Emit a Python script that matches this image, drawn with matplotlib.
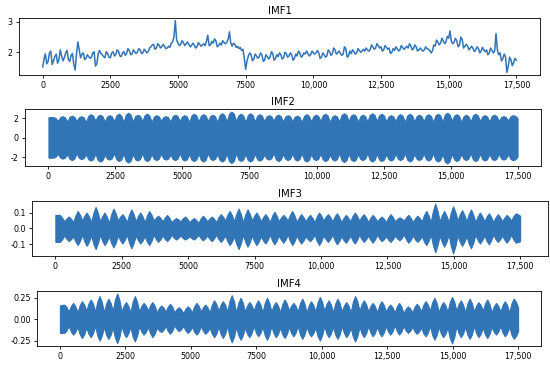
import numpy as np
import matplotlib
matplotlib.use("Agg")
import matplotlib.pyplot as plt
from matplotlib.ticker import FuncFormatter

# IMF1: slow trend, one value every 50 samples (0 .. 17500), 20 values per row
imf1 = [1.52, 1.78, 1.95, 1.62, 1.70, 1.98, 2.04, 1.60, 1.72, 1.86, 1.94, 1.64, 1.76, 2.08, 1.88, 1.72, 1.82, 1.98, 2.06, 1.76,
        1.70, 1.90, 1.96, 1.60, 1.42, 1.95, 2.34, 2.08, 1.82, 1.94, 1.98, 1.76, 1.80, 1.92, 1.86, 1.80, 1.84, 1.98, 2.02, 1.55,
        1.62, 1.94, 2.06, 1.96, 1.92, 1.86, 1.82, 2.02, 1.96, 1.84, 1.82, 1.98, 2.02, 1.88, 1.92, 2.08, 2.04, 1.88, 1.86, 1.98,
        2.02, 1.90, 1.96, 2.12, 2.06, 1.92, 1.94, 2.08, 2.02, 1.96, 2.00, 2.12, 2.08, 1.96, 1.98, 2.10, 2.04, 1.98, 2.02, 2.14,
        2.18, 2.24, 2.26, 2.10, 2.14, 2.28, 2.24, 2.14, 2.18, 2.26, 2.20, 2.12, 2.14, 2.20, 2.16, 2.30, 2.34, 2.50, 3.04, 2.40,
        2.30, 2.22, 2.26, 2.38, 2.32, 2.22, 2.28, 2.34, 2.26, 2.18, 2.22, 2.30, 2.24, 2.14, 2.18, 2.32, 2.26, 2.20, 2.24, 2.28,
        2.22, 2.36, 2.56, 2.22, 2.24, 2.36, 2.30, 2.44, 2.38, 2.18, 2.22, 2.30, 2.24, 2.38, 2.32, 2.28, 2.32, 2.42, 2.67, 2.30,
        2.20, 2.30, 2.26, 2.16, 2.20, 2.12, 2.16, 2.06, 2.10, 1.80, 1.44, 1.72, 1.88, 1.98, 1.92, 1.72, 1.78, 1.94, 1.88, 1.80,
        1.86, 1.98, 1.92, 1.70, 1.74, 1.92, 1.86, 1.78, 1.84, 2.02, 1.96, 1.74, 1.80, 1.92, 1.86, 1.98, 1.92, 1.78, 1.82, 2.00,
        1.96, 1.84, 1.88, 1.98, 1.92, 1.74, 1.80, 1.94, 1.88, 2.04, 1.98, 1.84, 1.88, 1.98, 1.94, 2.04, 1.96, 1.88, 1.92, 2.04,
        1.98, 1.94, 1.98, 2.06, 1.98, 1.80, 1.84, 1.98, 1.92, 1.84, 1.88, 2.08, 2.02, 1.90, 1.94, 2.14, 2.08, 1.94, 1.98, 2.04,
        1.96, 1.90, 1.94, 2.18, 2.12, 1.84, 1.88, 2.04, 1.96, 2.08, 2.02, 1.94, 1.98, 2.12, 2.06, 2.00, 2.04, 2.10, 2.04, 2.14,
        2.08, 2.04, 2.08, 2.24, 2.18, 2.10, 2.14, 2.28, 2.22, 2.14, 2.18, 2.04, 2.08, 2.22, 2.16, 2.10, 2.14, 1.96, 2.00, 2.12,
        2.06, 2.18, 2.12, 2.04, 2.08, 2.22, 2.16, 2.10, 2.14, 2.20, 2.14, 2.28, 2.22, 2.08, 2.12, 2.24, 2.18, 2.04, 2.08, 2.14,
        2.08, 2.04, 2.08, 2.18, 2.12, 2.10, 2.06, 1.98, 2.04, 2.24, 2.20, 2.40, 2.34, 2.24, 2.30, 2.46, 2.38, 2.28, 2.34, 2.52,
        2.46, 2.70, 2.36, 2.28, 2.34, 2.46, 2.38, 2.18, 2.24, 2.50, 2.42, 2.14, 2.20, 2.26, 2.20, 2.08, 2.14, 2.20, 2.12, 2.02,
        2.08, 2.18, 2.12, 1.98, 2.04, 2.16, 2.08, 2.02, 2.08, 1.92, 1.98, 2.14, 2.06, 1.98, 2.04, 2.62, 2.08, 1.92, 1.98, 1.72,
        1.78, 1.94, 1.86, 1.34, 1.52, 1.84, 1.76, 1.56, 1.66, 1.80, 1.74]

# IMF2..IMF4: dense oscillations, read as envelope peaks / waists per beat lobe
imf2_top_peak = [2.10, 2.20, 2.25, 2.20, 2.40, 2.35, 2.30, 2.45, 2.55, 2.35,
                 2.45, 2.30, 2.20, 2.35, 2.30, 2.45, 2.40, 2.35, 2.50, 2.67,
                 2.45, 2.50, 2.40, 2.30, 2.35, 2.30, 2.25, 2.40, 2.35, 2.45,
                 2.30, 2.50, 2.40, 2.35, 2.50, 2.45, 2.30, 2.40, 2.45, 2.35,
                 2.40, 2.45, 2.55, 2.40, 2.35, 2.45, 2.30, 2.35, 2.20, 2.30]
imf2_top_waist = [2.10, 1.70, 1.65, 1.70, 1.60, 1.75, 1.65, 1.70, 1.60, 1.65,
                  1.70, 1.60, 1.75, 1.65, 1.70, 1.60, 1.65, 1.70, 1.60, 1.65,
                  1.70, 1.60, 1.65, 1.70, 1.75, 1.65, 1.70, 1.60, 1.65, 1.70,
                  1.60, 1.65, 1.70, 1.60, 1.65, 1.70, 1.65, 1.70, 1.60, 1.65,
                  1.70, 1.60, 1.65, 1.70, 1.60, 1.65, 1.70, 1.65, 1.70, 1.75,
                  2.00]
imf2_bot_peak = [-2.05, -2.15, -2.30, -2.20, -2.35, -2.45, -2.25, -2.40, -2.55, -2.35,
                 -2.40, -2.30, -2.25, -2.30, -2.35, -2.40, -2.45, -2.30, -2.45, -2.60,
                 -2.40, -2.45, -2.35, -2.25, -2.40, -2.30, -2.35, -2.45, -2.30, -2.40,
                 -2.35, -2.50, -2.40, -2.30, -2.45, -2.40, -2.35, -2.30, -2.45, -2.30,
                 -2.35, -2.45, -2.64, -2.40, -2.30, -2.40, -2.35, -2.30, -2.25, -2.30]
imf2_bot_waist = [-2.05, -1.65, -1.70, -1.60, -1.70, -1.65, -1.75, -1.60, -1.65, -1.70,
                  -1.60, -1.70, -1.65, -1.75, -1.60, -1.70, -1.65, -1.60, -1.70, -1.65,
                  -1.60, -1.70, -1.65, -1.75, -1.60, -1.70, -1.65, -1.60, -1.70, -1.65,
                  -1.75, -1.60, -1.65, -1.70, -1.60, -1.65, -1.70, -1.65, -1.60, -1.70,
                  -1.65, -1.60, -1.70, -1.65, -1.70, -1.60, -1.65, -1.70, -1.65, -1.70,
                  -1.95]

imf3_top_peak = [0.085, 0.075, 0.110, 0.100, 0.135, 0.100, 0.125, 0.090, 0.120, 0.100,
                 0.110, 0.080, 0.085, 0.065, 0.075, 0.065, 0.080, 0.075, 0.090, 0.110,
                 0.125, 0.120, 0.100, 0.090, 0.105, 0.085, 0.110, 0.090, 0.085, 0.100,
                 0.090, 0.095, 0.085, 0.100, 0.090, 0.085, 0.075, 0.090, 0.070, 0.085,
                 0.080, 0.110, 0.157, 0.110, 0.140, 0.115, 0.120, 0.100, 0.095, 0.090,
                 0.085, 0.095]
imf3_top_waist = [0.085, 0.045, 0.040, 0.050, 0.040, 0.045, 0.035, 0.050, 0.040, 0.045,
                  0.040, 0.050, 0.045, 0.040, 0.045, 0.040, 0.035, 0.045, 0.040, 0.050,
                  0.045, 0.040, 0.050, 0.045, 0.040, 0.045, 0.050, 0.040, 0.045, 0.040,
                  0.050, 0.045, 0.040, 0.045, 0.050, 0.040, 0.045, 0.040, 0.045, 0.050,
                  0.040, 0.045, 0.040, 0.045, 0.040, 0.050, 0.045, 0.040, 0.045, 0.040,
                  0.045, 0.050, 0.080]
imf3_bot_peak = [-0.085, -0.080, -0.105, -0.110, -0.130, -0.105, -0.120, -0.095, -0.125, -0.095,
                 -0.105, -0.085, -0.080, -0.070, -0.070, -0.070, -0.075, -0.080, -0.085, -0.105,
                 -0.130, -0.115, -0.105, -0.095, -0.100, -0.090, -0.105, -0.095, -0.080, -0.105,
                 -0.085, -0.100, -0.090, -0.095, -0.085, -0.090, -0.080, -0.085, -0.075, -0.090,
                 -0.085, -0.105, -0.150, -0.115, -0.158, -0.110, -0.125, -0.095, -0.100, -0.085,
                 -0.090, -0.090]
imf3_bot_waist = [-0.085, -0.045, -0.050, -0.040, -0.045, -0.040, -0.050, -0.045, -0.040, -0.045,
                  -0.050, -0.040, -0.045, -0.040, -0.045, -0.050, -0.040, -0.045, -0.040, -0.045,
                  -0.050, -0.040, -0.045, -0.050, -0.040, -0.045, -0.040, -0.045, -0.050, -0.040,
                  -0.045, -0.040, -0.050, -0.045, -0.040, -0.045, -0.040, -0.050, -0.045, -0.040,
                  -0.045, -0.050, -0.040, -0.045, -0.040, -0.045, -0.050, -0.040, -0.045, -0.040,
                  -0.045, -0.040, -0.080]

imf4_top_peak = [0.17, 0.19, 0.21, 0.23, 0.27, 0.24, 0.30, 0.20, 0.27, 0.19,
                 0.20, 0.16, 0.18, 0.14, 0.15, 0.19, 0.17, 0.22, 0.21, 0.28,
                 0.25, 0.20, 0.22, 0.25, 0.20, 0.23, 0.19, 0.24, 0.21, 0.26,
                 0.22, 0.24, 0.20, 0.27, 0.22, 0.19, 0.21, 0.17, 0.19, 0.15,
                 0.18, 0.21, 0.25, 0.20, 0.26, 0.22, 0.24, 0.20, 0.23, 0.19,
                 0.21, 0.24]
imf4_top_waist = [0.16, 0.09, 0.08, 0.10, 0.09, 0.08, 0.10, 0.09, 0.08, 0.09,
                  0.10, 0.08, 0.09, 0.08, 0.07, 0.08, 0.09, 0.08, 0.10, 0.09,
                  0.08, 0.09, 0.10, 0.08, 0.09, 0.08, 0.10, 0.09, 0.08, 0.09,
                  0.10, 0.08, 0.09, 0.08, 0.10, 0.09, 0.08, 0.09, 0.08, 0.07,
                  0.08, 0.09, 0.10, 0.08, 0.09, 0.10, 0.08, 0.09, 0.10, 0.08,
                  0.09, 0.08, 0.14]
imf4_bot_peak = [-0.16, -0.18, -0.22, -0.21, -0.25, -0.23, -0.28, -0.21, -0.26, -0.18,
                 -0.21, -0.15, -0.17, -0.14, -0.16, -0.18, -0.17, -0.21, -0.22, -0.27,
                 -0.24, -0.21, -0.20, -0.24, -0.21, -0.22, -0.20, -0.23, -0.20, -0.25,
                 -0.21, -0.23, -0.21, -0.26, -0.21, -0.20, -0.20, -0.18, -0.18, -0.16,
                 -0.17, -0.20, -0.24, -0.21, -0.284, -0.21, -0.23, -0.21, -0.22, -0.18,
                 -0.20, -0.23]
imf4_bot_waist = [-0.16, -0.08, -0.09, -0.10, -0.08, -0.09, -0.10, -0.08, -0.09, -0.08,
                  -0.09, -0.10, -0.08, -0.07, -0.08, -0.09, -0.08, -0.10, -0.09, -0.08,
                  -0.09, -0.10, -0.08, -0.09, -0.08, -0.10, -0.09, -0.08, -0.09, -0.10,
                  -0.08, -0.09, -0.08, -0.10, -0.09, -0.08, -0.09, -0.08, -0.07, -0.08,
                  -0.09, -0.10, -0.08, -0.09, -0.10, -0.08, -0.09, -0.08, -0.10, -0.09,
                  -0.08, -0.09, -0.14]

n_samples = 17500
titles = ["IMF1", "IMF2", "IMF3", "IMF4"]
yticks = [[2, 3], [-2, 0, 2], [-0.1, 0.0, 0.1], [-0.25, 0.0, 0.25]]
ytick_fmt = ["{:.0f}", "{:.0f}", "{:.1f}", "{:.2f}"]
xticks = [0, 2500, 5000, 7500, 10000, 12500, 15000, 17500]

color = "#3175b6"


def envelope(peaks, waists, round_top):
    # waist -> shoulder -> peak -> shoulder -> waist for every lobe
    vals = []
    for i in range(len(peaks)):
        vals.append(waists[i])
        vals.append(waists[i] + round_top * (peaks[i] - waists[i]))
        vals.append(peaks[i])
        vals.append(waists[i + 1] + round_top * (peaks[i] - waists[i + 1]))
    vals.append(waists[-1])
    x = np.linspace(0, n_samples, len(vals))
    return x, np.array(vals)


def xfmt(v, pos):
    if abs(v) >= 10000:
        return "{:,.0f}".format(v)
    return "{:.0f}".format(v)


fig = plt.figure(figsize=(5.5, 3.67), dpi=100)
W, H = 550.0, 367.0
# axes boxes in pixels: left, right, top, bottom
boxes = [(19, 540, 18, 75), (25, 541, 109, 166), (32, 548, 201, 256), (37, 541, 291, 346)]
xlims = [(-875, 18375), (-875, 18375), (-880, 18550), (-875, 18375)]
axes = []
for (l, r, t, b) in boxes:
    axes.append(fig.add_axes([l / W, 1 - b / H, (r - l) / W, (b - t) / H]))

x1 = np.linspace(0, n_samples, len(imf1))
axes[0].plot(x1, imf1, color=color, lw=1.1)

env = [(imf2_top_peak, imf2_top_waist, imf2_bot_peak, imf2_bot_waist, 0.8),
       (imf3_top_peak, imf3_top_waist, imf3_bot_peak, imf3_bot_waist, 0.6),
       (imf4_top_peak, imf4_top_waist, imf4_bot_peak, imf4_bot_waist, 0.65)]
for ax, (tp, tw, bp, bw, rt) in zip(axes[1:], env):
    xt, yt = envelope(tp, tw, rt)
    xb, yb = envelope(bp, bw, rt)
    ax.fill_between(xt, yt, yb, color=color, lw=0.8, edgecolor=color)

for i, ax in enumerate(axes):
    ax.set_title(titles[i], fontsize=7.3, pad=3)
    ax.set_xticks(xticks)
    ax.xaxis.set_major_formatter(FuncFormatter(xfmt))
    ax.set_yticks(yticks[i])
    ax.set_yticklabels([ytick_fmt[i].format(v) for v in yticks[i]])
    ax.tick_params(labelsize=5.7, length=2.5, width=0.6, pad=2)
    for s in ax.spines.values():
        s.set_linewidth(0.6)
    ax.set_xlim(*xlims[i])

fig.savefig("out.png", dpi=100)
